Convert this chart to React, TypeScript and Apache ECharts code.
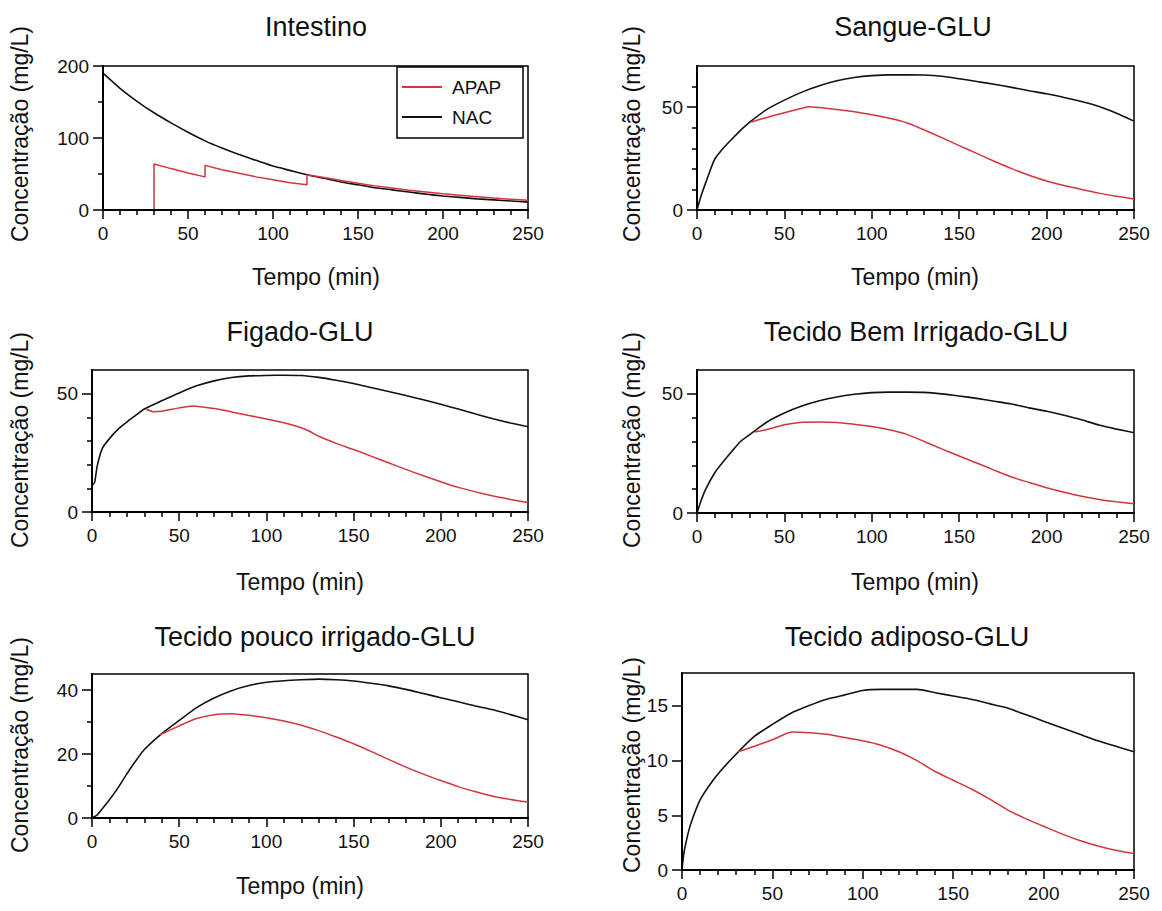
import React, { useEffect, useRef } from "react";
import * as echarts from "echarts";

const FONT = '"Liberation Sans", Arial, Helvetica, sans-serif';
const RED = "#d3353d";
const BLACK = "#111111";

// ---------- Data (time in min, concentration in mg/L) ----------
const xMajor = [0, 50, 100, 150, 200, 250];
const xMinor = [10, 20, 30, 40, 60, 70, 80, 90, 110, 120, 130, 140, 160, 170, 180, 190, 210, 220, 230, 240];

// Intestino
const intNAC_t = [0, 10, 20, 30, 40, 50, 60, 70, 80, 90, 100, 110, 120, 130, 140, 150, 160, 170, 180, 190, 200, 210, 220, 230, 240, 250];
const intNAC = [190, 169, 151, 135, 121, 108, 96, 86, 77, 69, 61, 55, 49, 44, 39, 35, 31, 28, 25, 22, 19.5, 17.5, 15.5, 14, 12.5, 11];
const intAPAP_t = [30, 30, 40, 50, 60, 60, 70, 80, 90, 100, 110, 120, 120, 130, 140, 150, 160, 170, 180, 190, 200, 210, 220, 230, 240, 250];
const intAPAP = [0, 64, 57.5, 51.5, 46, 62, 56, 51, 46, 42, 38, 35, 49, 45, 41, 37, 33.5, 30.5, 27.5, 25, 22.5, 20.5, 18.5, 16.5, 15, 13.5];

// Sangue-GLU
const sanNAC_t = [0, 2, 5, 10, 15, 20, 25, 30, 40, 50, 60, 70, 80, 90, 100, 110, 120, 130, 140, 150, 160, 170, 180, 190, 200, 210, 220, 230, 240, 250];
const sanNAC = [0, 6, 13.3, 24.5, 30, 34.5, 38.8, 42.6, 48.9, 53.4, 57.3, 60.4, 62.8, 64.4, 65.3, 65.7, 65.7, 65.6, 65, 63.8, 62.5, 61.1, 59.6, 58, 56.5, 54.7, 52.7, 50.3, 47, 43.2];
const sanAPAP_t = [31, 40, 50, 60, 64, 70, 80, 90, 100, 110, 120, 130, 140, 150, 160, 170, 180, 190, 200, 210, 220, 230, 240, 250];
const sanAPAP = [42.8, 45, 47.3, 49.5, 50.2, 49.8, 48.9, 47.8, 46.3, 44.6, 42.4, 38.9, 35.2, 31.3, 27.5, 23.7, 20.1, 16.9, 14.1, 11.9, 10, 8.2, 6.7, 5.4];

// Figado-GLU
const figNAC_t = [0, 0, 1.5, 3, 6, 10, 15, 20, 25, 30, 40, 50, 60, 70, 80, 90, 100, 110, 120, 130, 140, 150, 160, 170, 180, 190, 200, 210, 220, 230, 240, 250];
const figNAC = [0, 11, 12.5, 19.5, 27, 31, 35, 38, 40.8, 43.5, 47, 50.3, 53.3, 55.4, 56.8, 57.5, 57.7, 57.8, 57.7, 56.9, 55.7, 54.3, 52.6, 50.9, 49.2, 47.4, 45.5, 43.5, 41.4, 39.4, 37.6, 36];
const figAPAP_t = [31, 35, 40, 50, 58, 70, 80, 90, 100, 110, 120, 125, 130, 140, 150, 160, 170, 180, 190, 200, 210, 220, 230, 240, 250];
const figAPAP = [43.5, 42.4, 42.6, 44, 44.8, 43.7, 42.3, 40.8, 39.3, 37.7, 35.6, 34, 32, 29, 26.4, 23.6, 20.8, 18, 15.3, 12.8, 10.4, 8.5, 6.8, 5.3, 4];

// Tecido Bem Irrigado-GLU
const bemNAC_t = [0, 2, 5, 10, 15, 20, 25, 30, 40, 50, 60, 70, 80, 90, 100, 110, 120, 130, 140, 150, 160, 170, 180, 190, 200, 210, 220, 230, 240, 250];
const bemNAC = [0, 4.5, 10, 16.7, 21.5, 25.9, 30.1, 32.8, 38.2, 42, 44.9, 47.1, 48.7, 49.8, 50.5, 50.7, 50.7, 50.6, 50, 49.1, 48.1, 46.9, 45.7, 44.1, 42.7, 41, 39.1, 36.9, 35.2, 33.7];
const bemAPAP_t = [33, 40, 50, 60, 70, 80, 90, 100, 110, 120, 130, 140, 150, 160, 170, 180, 190, 200, 210, 220, 230, 240, 250];
const bemAPAP = [34, 35, 37, 38.1, 38.2, 38, 37.2, 36.3, 34.9, 33, 30, 26.9, 23.9, 21, 18, 15.1, 12.8, 10.6, 8.7, 7, 5.7, 4.7, 3.9];

// Tecido pouco irrigado-GLU
const pouNAC_t = [0, 3, 5, 10, 15, 20, 25, 30, 40, 50, 60, 70, 80, 90, 100, 110, 120, 130, 140, 150, 160, 170, 180, 190, 200, 210, 220, 230, 240, 250];
const pouNAC = [0, 1, 2.3, 5.7, 9.5, 13.8, 17.8, 21.4, 26.4, 30.5, 34.5, 37.5, 39.8, 41.4, 42.4, 42.9, 43.2, 43.4, 43.2, 42.8, 42.1, 41.3, 40.2, 38.9, 37.6, 36.3, 35, 33.8, 32.3, 30.7];
const pouAPAP_t = [39, 50, 60, 70, 80, 90, 100, 110, 120, 130, 140, 150, 160, 170, 180, 190, 200, 210, 220, 230, 240, 250];
const pouAPAP = [26, 28.8, 31.1, 32.3, 32.6, 32.1, 31.3, 30.3, 29, 27.3, 25.3, 23.2, 20.8, 18.3, 15.9, 13.7, 11.7, 9.8, 8.2, 6.8, 5.8, 5];

// Tecido adiposo-GLU
const adiNAC_t = [0, 1, 3, 5, 10, 15, 20, 30, 40, 50, 60, 70, 80, 90, 100, 110, 120, 130, 140, 150, 160, 170, 180, 190, 200, 210, 220, 230, 240, 250];
const adiNAC = [0, 1.5, 3.1, 4.3, 6.4, 7.7, 8.8, 10.6, 12.2, 13.3, 14.3, 15, 15.6, 16, 16.4, 16.5, 16.5, 16.5, 16.2, 15.9, 15.6, 15.2, 14.8, 14.2, 13.6, 13, 12.4, 11.8, 11.3, 10.8];
const adiAPAP_t = [31, 40, 50, 61, 70, 80, 90, 100, 110, 120, 130, 140, 150, 160, 170, 180, 190, 200, 210, 220, 230, 240, 250];
const adiAPAP = [10.8, 11.3, 11.9, 12.6, 12.55, 12.4, 12.1, 11.8, 11.4, 10.8, 10, 9, 8.2, 7.4, 6.5, 5.5, 4.7, 4, 3.3, 2.7, 2.2, 1.8, 1.5];

const titles = ["Intestino", "Sangue-GLU", "Figado-GLU", "Tecido Bem Irrigado-GLU", "Tecido pouco irrigado-GLU", "Tecido adiposo-GLU"];
const yAxisTitle = "Concentração (mg/L)";
const xAxisTitle = "Tempo (min)";
const legendNames = ["APAP", "NAC"];

const zip = (t: number[], v: number[]) => t.map((x, i) => [x, v[i]]);

const panels = [
  { grid: { left: 103, top: 66, width: 425, height: 144 }, yMax: 200, yMajor: [0, 100, 200], yMinor: [50, 150], title: [316, 27], yName: [20, 134], xName: [316, 277], smoothApap: false, apap: zip(intAPAP_t, intAPAP), nac: zip(intNAC_t, intNAC) },
  { grid: { left: 697, top: 66, width: 437, height: 144 }, yMax: 70, yMajor: [0, 50], yMinor: [10, 20, 30, 40, 60], title: [913, 27], yName: [632, 134], xName: [915, 277], smoothApap: true, apap: zip(sanAPAP_t, sanAPAP), nac: zip(sanNAC_t, sanNAC) },
  { grid: { left: 92, top: 370, width: 436, height: 142 }, yMax: 60, yMajor: [0, 50], yMinor: [10, 20, 30, 40], title: [300, 332], yName: [20, 440], xName: [300, 582], smoothApap: true, apap: zip(figAPAP_t, figAPAP), nac: zip(figNAC_t, figNAC) },
  { grid: { left: 697, top: 370, width: 437, height: 143 }, yMax: 60, yMajor: [0, 50], yMinor: [10, 20, 30, 40], title: [916, 332], yName: [632, 440], xName: [915, 582], smoothApap: true, apap: zip(bemAPAP_t, bemAPAP), nac: zip(bemNAC_t, bemNAC) },
  { grid: { left: 92, top: 674, width: 436, height: 144 }, yMax: 45, yMajor: [0, 20, 40], yMinor: [10, 30], title: [315, 637], yName: [20, 745], xName: [300, 886], smoothApap: true, apap: zip(pouAPAP_t, pouAPAP), nac: zip(pouNAC_t, pouNAC) },
  { grid: { left: 682, top: 673, width: 452, height: 197 }, yMax: 18, yMajor: [0, 5, 10, 15], yMinor: [], title: [907, 637], yName: [632, 765], xName: null, smoothApap: true, apap: zip(adiAPAP_t, adiAPAP), nac: zip(adiNAC_t, adiNAC) },
];

function buildOption() {
  const grid: any[] = [];
  const xAxis: any[] = [];
  const yAxis: any[] = [];
  const series: any[] = [];
  const graphic: any[] = [];
  const axisLine = { show: true, onZero: false, lineStyle: { color: "#000", width: 2 } };
  const labelStyle = { color: "#111", fontSize: 19, fontFamily: FONT };

  panels.forEach((p, i) => {
    grid.push({ ...p.grid, show: true, borderColor: "#000", borderWidth: 1.5, backgroundColor: "transparent" });
    xAxis.push({
      type: "value", gridIndex: i, position: "bottom", min: 0, max: 250, interval: 50,
      axisLine, splitLine: { show: false }, z: 5,
      axisTick: { show: true, inside: false, length: 9, lineStyle: { color: "#000", width: 1.5 }, customValues: xMajor },
      axisLabel: { ...labelStyle, margin: 14, customValues: xMajor },
    });
    xAxis.push({
      type: "value", gridIndex: i, position: "bottom", min: 0, max: 250, interval: 10,
      axisLine: { show: false, onZero: false }, splitLine: { show: false }, axisLabel: { show: false },
      axisTick: { show: true, inside: false, length: 5, lineStyle: { color: "#000", width: 1.5 }, customValues: xMinor },
    });
    const yInt = p.yMajor[1] - p.yMajor[0];
    yAxis.push({
      type: "value", gridIndex: i, position: "left", min: 0, max: p.yMax, interval: yInt,
      axisLine, splitLine: { show: false }, z: 5,
      axisTick: { show: true, inside: false, length: 10, lineStyle: { color: "#000", width: 1.5 }, customValues: p.yMajor },
      axisLabel: { ...labelStyle, margin: 14, customValues: p.yMajor },
    });
    yAxis.push({
      type: "value", gridIndex: i, position: "left", min: 0, max: p.yMax, interval: p.yMinor.length ? 10 : yInt,
      axisLine: { show: false, onZero: false }, splitLine: { show: false }, axisLabel: { show: false },
      axisTick: { show: p.yMinor.length > 0, inside: false, length: 5, lineStyle: { color: "#000", width: 1.5 }, customValues: p.yMinor },
    });
    series.push({
      type: "line", name: legendNames[1], xAxisIndex: 2 * i, yAxisIndex: 2 * i, data: p.nac,
      smooth: 0.2,
      showSymbol: false, symbol: "none", lineStyle: { color: BLACK, width: 1.6 }, itemStyle: { color: BLACK }, z: 2,
    });
    series.push({
      type: "line", name: legendNames[0], xAxisIndex: 2 * i, yAxisIndex: 2 * i, data: p.apap,
      smooth: p.smoothApap ? 0.2 : false,
      showSymbol: false, symbol: "none", lineStyle: { color: RED, width: 1.5 }, itemStyle: { color: RED }, z: 3,
    });

    graphic.push({ type: "text", x: p.title[0], y: p.title[1], style: { text: titles[i], fontSize: 27, fontFamily: FONT, fill: "#111", align: "center", verticalAlign: "middle" } });
    graphic.push({ type: "text", x: p.yName[0], y: p.yName[1], rotation: Math.PI / 2, style: { text: yAxisTitle, fontSize: 23, fontFamily: FONT, fill: "#111", align: "center", verticalAlign: "middle" } });
    if (p.xName) {
      graphic.push({ type: "text", x: p.xName[0], y: p.xName[1], style: { text: xAxisTitle, fontSize: 23, fontFamily: FONT, fill: "#111", align: "center", verticalAlign: "middle" } });
    }
  });

  // legend box in the Intestino panel
  graphic.push({
    type: "group", z: 100, children: [
      { type: "rect", shape: { x: 397, y: 67, width: 126, height: 71 }, style: { fill: "#fff", stroke: "#000", lineWidth: 1.5 } },
      { type: "line", shape: { x1: 402, y1: 87, x2: 442, y2: 87 }, style: { stroke: RED, lineWidth: 2 } },
      { type: "line", shape: { x1: 402, y1: 117, x2: 442, y2: 117 }, style: { stroke: BLACK, lineWidth: 2 } },
      { type: "text", x: 452, y: 87, style: { text: legendNames[0], fontSize: 19, fontFamily: FONT, fill: "#111", verticalAlign: "middle" } },
      { type: "text", x: 452, y: 117, style: { text: legendNames[1], fontSize: 19, fontFamily: FONT, fill: "#111", verticalAlign: "middle" } },
    ],
  });

  return { animation: false, backgroundColor: "#fff", grid, xAxis, yAxis, series, graphic };
}

export default function App() {
  const ref = useRef<HTMLDivElement>(null);
  useEffect(() => {
    if (!ref.current) return;
    const chart = echarts.init(ref.current, null, { renderer: "svg" });
    chart.setOption(buildOption() as any);
    return () => chart.dispose();
  }, []);
  return <div ref={ref} style={{ position: "fixed", left: 0, top: 0, width: 1162, height: 911, background: "#fff" }} />;
}
